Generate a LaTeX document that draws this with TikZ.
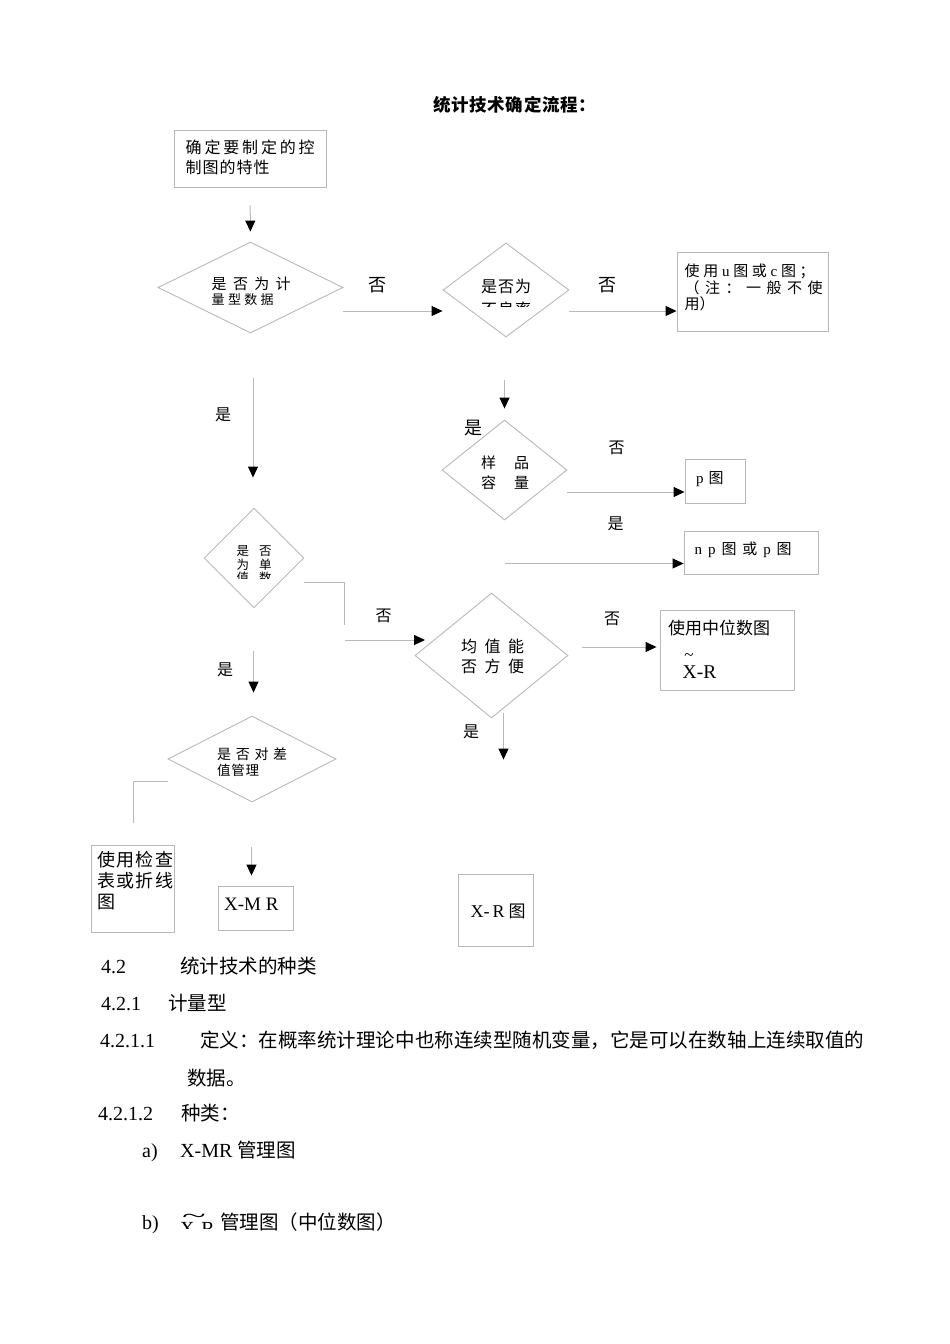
\documentclass[tikz,border=0pt]{standalone}
\usepackage{fontspec}
\setmainfont{Liberation Serif}
\newfontfamily\cjk{Noto Sans CJK SC}
\usetikzlibrary{shapes.geometric,arrows.meta}
\definecolor{lc}{RGB}{185,185,185}
\newcommand\Spr[2]{\makebox[#1][s]{\SprA#2\relax}}
\def\SprA#1{#1\futurelet\SprNext\SprB}
\def\SprB{\ifx\SprNext\relax\expandafter\SprE\else\hfill\expandafter\SprA\fi}
\def\SprE\relax{}
\newcommand\lat[1]{{\rmfamily #1}}
\newcommand\FS[1]{\fontsize{#1}{#1}\selectfont}
\tikzset{
 ln/.style={draw=lc, line width=1pt},
 arr/.style={ln, -{Triangle[width=10pt,length=11pt,color=black]}},
 dia/.style={shape=diamond, draw=lc, line width=0.9pt, inner sep=0pt},
 bx/.style={draw=lc, line width=0.9pt, inner sep=0pt},
 tx/.style={inner sep=0pt, anchor=west},
 lbl/.style={inner sep=0pt, font=\cjk\FS{16}},
 lblb/.style={inner sep=0pt, font=\cjk\FS{18}},
 rmb/.style={inner sep=0pt, anchor=base west, font=\rmfamily\FS{20}},
 cjb/.style={inner sep=0pt, anchor=base west, font=\cjk\FS{19.5}},
}
\begin{document}
\begin{tikzpicture}[x=1pt,y=-1pt]
\useasboundingbox (0,0) rectangle (950,1344);
\fill[white] (0,0) rectangle (950,1344);

% title
\node[tx, font=\cjk\bfseries\FS{17.5}] (title) at (433,105) {\Spr{163pt}{统计技术确定流程：}};

% box 1
\node[bx, minimum width=152pt, minimum height=57pt] (b1) at (250,158.5) {};
\node[tx, font=\cjk\FS{16}] (b1a) at (185.5,147.5) {\Spr{129pt}{确定要制定的控}};
\node[tx, font=\cjk\FS{16}] (b1b) at (185.5,167) {\Spr{84pt}{制图的特性}};

% diamond 1
\node[dia, minimum width=185pt, minimum height=91pt] (d1) at (250.5,287.5) {};
\node[tx, font=\cjk\FS{15}] (d1a) at (211.5,283.5) {\Spr{79pt}{是否为计}};
\node[tx, font=\cjk\FS{13}] (d1b) at (211.5,300) {\Spr{62pt}{量型数据}};
\draw[arr, shorten <=18pt, shorten >=10pt] (b1.south) -- (d1.north);

% diamond 2
\node[dia, minimum width=126pt, minimum height=94pt] (d2) at (506,290) {};
\node[tx, font=\cjk\FS{16}] (d2a) at (481,286.5) {\Spr{50pt}{是否为}};
\begin{scope}
\clip (470,299) rectangle (545,306);
\node[tx, font=\cjk\FS{16}] (d2b) at (481,309) {\Spr{50pt}{不良率}};
\end{scope}
\coordinate (c1) at (343,311);
\draw[arr] (c1) -- (c1 -| d2.west);
\node[lblb] (no1) at (377,285) {否};

% box 3
\node[bx, minimum width=151pt, minimum height=79pt] (b3) at (752.5,291.5) {};
\node[tx, font=\cjk\FS{15}] (b3a) at (684.5,271) {\Spr{130pt}{使用{\lat{u}}图或{\lat{c}}图；}};
\node[tx, font=\cjk\FS{15}] (b3b) at (684.5,288) {\Spr{138pt}{（注：一般不使}};
\node[tx, font=\cjk\FS{15}] (b3c) at (684.5,304) {用）};
\draw[arr] (d2.east |- c1) -- (c1 -| b3.west);
\node[lblb] (no2) at (607,285) {否};

% diamond 3
\node[dia, minimum width=125pt, minimum height=100pt] (d3) at (504.5,470) {};
\node[tx, font=\cjk\FS{15}] (d3a) at (481,463) {\Spr{48pt}{样品}};
\node[tx, font=\cjk\FS{15}] (d3b) at (481,483) {\Spr{48pt}{容量}};
\coordinate (c2) at (504.5,380);
\draw[arr, shorten >=11pt] (c2) -- (c2 |- d3.north);
\node[lblb] (yes1) at (473,428) {是};

% p box
\node[bx, minimum width=60pt, minimum height=44pt] (bp) at (715,481) {};
\node[tx, font=\cjk\FS{15}] (bpt) at (696,479) {\lat{p}\hspace{5pt}图};
\coordinate (c3) at (567,492);
\draw[arr] (c3) -- (c3 -| bp.west);
\node[lbl] (no4) at (616.5,448) {否};

% np box
\node[bx, minimum width=134pt, minimum height=43pt] (bnp) at (751,552.5) {};
\node[tx, font=\cjk\FS{15}] (bnpt) at (694.5,550) {\Spr{97pt}{{\lat{n}}{\lat{p}}图或{\lat{p}}图}};
\coordinate (c4) at (505,563.5);
\draw[arr] (c4) -- (c4 -| bnp.west);
\node[lbl] (yes2) at (615.5,524) {是};

% diamond 4
\node[dia, minimum width=100pt, minimum height=100pt] (d4) at (254,558) {};
\node[tx, font=\cjk\FS{12.5}] (d4a) at (236.5,551) {是\hspace{10pt}否};
\node[tx, font=\cjk\FS{12.5}] (d4b) at (236.5,564.5) {为\hspace{10pt}单};
\begin{scope}
\clip (230,570) rectangle (280,578.5);
\node[tx, font=\cjk\FS{12.5}] (d4c) at (236.5,578) {值\hspace{10pt}数};
\end{scope}
\coordinate (c5) at (253,378);
\draw[arr, shorten >=30pt] (c5) -- (c5 |- d4.north);
\node[lbl] (yes3) at (223,415) {是};

% diamond 5
\node[dia, minimum width=153pt, minimum height=125pt] (d5) at (491.5,655.5) {};
\node[tx, font=\cjk\FS{16}] (d5a) at (461,646) {\Spr{63pt}{均值能}};
\node[tx, font=\cjk\FS{16}] (d5b) at (461,666.5) {\Spr{63pt}{否方便}};
\coordinate (c6a) at (304,582);
\coordinate (c6b) at (344.5,625);
\draw[ln] (c6a) -| (c6b);
\coordinate (c7) at (344.5,640);
\coordinate (c7e) at (425,640);
\draw[arr] (c7) -- (c7e);
\node[lbl] (no3) at (383.5,616) {否};

% median box
\node[bx, minimum width=134pt, minimum height=80pt] (bm) at (727,650) {};
\node[tx, font=\cjk\FS{17}] (bma) at (668,628) {\Spr{99pt}{使用中位数图}};
\node[inner sep=0pt, font=\rmfamily\FS{17}] (bmt) at (689,657) {\textasciitilde};
\node[tx, font=\rmfamily\FS{19.5}] (bmx) at (682.5,672.5) {X-R};
\coordinate (c8) at (581.5,647);
\draw[arr, shorten >=3pt] (c8) -- (c8 -| bm.west);
\node[lbl] (no5) at (612,619) {否};

% X-R box
\node[bx, minimum width=75pt, minimum height=72pt] (bxr) at (495.5,910) {};
\node[tx, font=\rmfamily\FS{18}] (bxrt) at (470.5,911) {X-\,R{\cjk\FS{17} 图}};
\coordinate (c9) at (503.5,713);
\draw[arr, shorten >=114pt] (c9) -- (c9 |- bxr.north);
\node[lbl] (yes4) at (471,732) {是};

% diamond 6
\node[dia, minimum width=168pt, minimum height=86pt] (d6) at (252,759) {};
\node[tx, font=\cjk\FS{14}] (d6a) at (217,754) {\Spr{70pt}{是否对差}};
\node[tx, font=\cjk\FS{13.5}] (d6b) at (217,770) {\Spr{42pt}{值管理}};
\coordinate (c10) at (253.5,651);
\draw[arr, shorten >=23pt] (c10) -- (c10 |- d6.north);
\node[lbl] (yes5) at (225,670) {是};

% check box
\node[bx, minimum width=83pt, minimum height=87pt] (bc) at (133,888.5) {};
\node[tx, font=\cjk\FS{18}] (bca) at (97,859.5) {\Spr{76pt}{使用检查}};
\node[tx, font=\cjk\FS{18}] (bcb) at (97,881) {\Spr{76pt}{表或折线}};
\node[tx, font=\cjk\FS{18}] (bcc) at (97,902) {图};
\coordinate (c11) at (168,781);
\coordinate (c11e) at (133.5,823);
\draw[ln] (c11) -| (c11e);

% X-MR box
\node[bx, minimum width=75pt, minimum height=44pt] (bxmr) at (255.5,908) {};
\node[tx, font=\rmfamily\FS{19}] (bxmrt) at (224,904) {X-M R};
\coordinate (c12) at (251.5,847);
\draw[arr, shorten >=10pt] (c12) -- (c12 |- bxmr.north);

% body text (baselines)
\node[rmb] (s1n) at (101,973) {4.2};
\node[cjb] (s1t) at (180,973) {统计技术的种类};
\node[rmb] (s2n) at (101,1010) {4.2.1};
\node[cjb] (s2t) at (168,1010) {计量型};
\node[rmb] (s3n) at (100,1047) {4.2.1.1};
\node[cjb] (s3t) at (200,1047) {\Spr{664pt}{定义：在概率统计理论中也称连续型随机变量，它是可以在数轴上连续取值的}};
\node[cjb] (s3u) at (187,1085) {数据。};
\node[rmb] (s4n) at (98,1120) {4.2.1.2};
\node[cjb] (s4t) at (181,1120) {种类：};
\node[rmb] (ia) at (142,1157) {a)};
\node[rmb] (iat) at (180,1157) {X-MR};
\node[cjb] (iac) at (237,1157) {管理图};
\node[rmb] (ib) at (142,1229) {b)};
\begin{scope}
\clip (176,1205) rectangle (220,1228);
\node[inner sep=0pt, anchor=base west, font=\rmfamily\FS{20}] (ibx) at (180,1235)
  {\rlap{\raisebox{13pt}{\hspace{2pt}\scalebox{2.2}[1]{\textasciitilde}}}X-R};
\end{scope}
\node[cjb] (ibc) at (220,1229) {管理图（中位数图）};
\end{tikzpicture}
\end{document}
